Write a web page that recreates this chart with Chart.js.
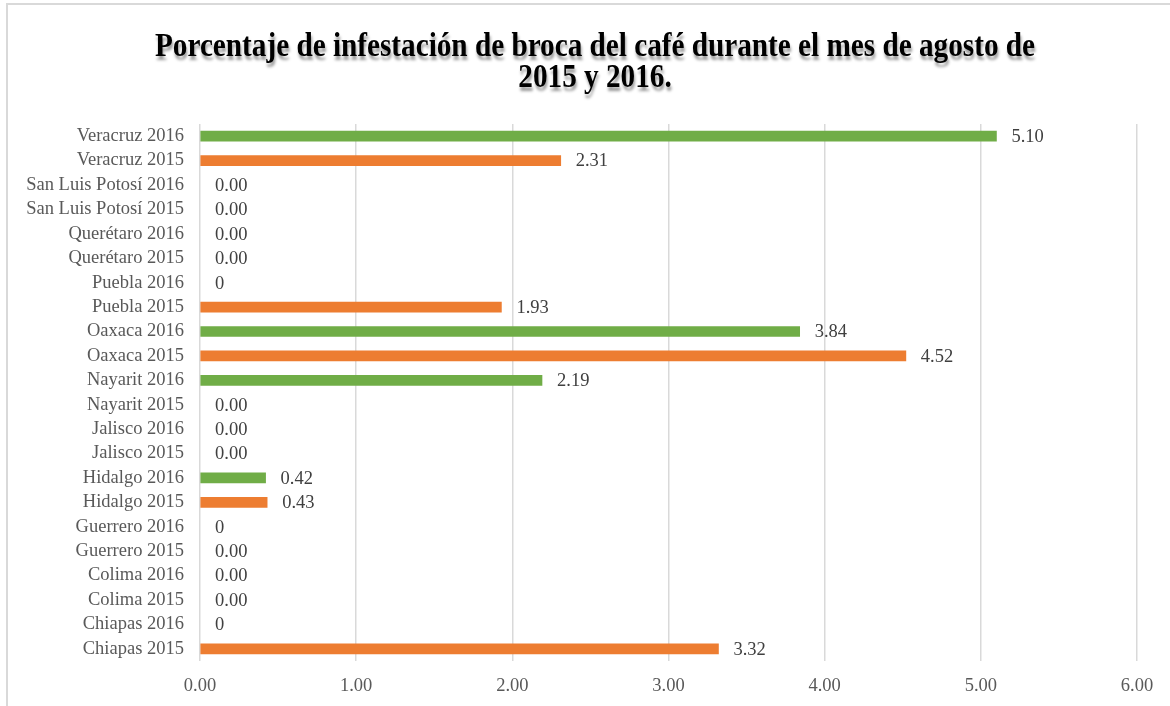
<!DOCTYPE html>
<html>
<head>
<meta charset="utf-8">
<script src="https://cdn.jsdelivr.net/npm/chart.js@4/dist/chart.umd.min.js"></script>
<style>
    html, body { margin: 0; padding: 0; background: #fff; }
    #marco { position: absolute; left: 6px; top: 3px; width: 1200px; height: 760px; border-top: 2px solid #d9d9d9; border-left: 2px solid #d9d9d9; }
    #wrap { position: absolute; left: 0; top: 0; width: 1170px; height: 706px; }
</style>
</head>
<body>
<div id="marco"></div>
<div id="wrap"><canvas id="brocaChart" width="1170" height="706"></canvas></div>
<script>
// categorias (de arriba hacia abajo)
const categorias = ['Veracruz 2016', 'Veracruz 2015', 'San Luis Potosí 2016', 'San Luis Potosí 2015',
    'Querétaro 2016', 'Querétaro 2015', 'Puebla 2016', 'Puebla 2015', 'Oaxaca 2016', 'Oaxaca 2015',
    'Nayarit 2016', 'Nayarit 2015', 'Jalisco 2016', 'Jalisco 2015', 'Hidalgo 2016', 'Hidalgo 2015',
    'Guerrero 2016', 'Guerrero 2015', 'Colima 2016', 'Colima 2015', 'Chiapas 2016', 'Chiapas 2015'];
// porcentaje de infestacion
const valores = [5.10, 2.31, 0, 0, 0, 0, 0, 1.93, 3.84, 4.52, 2.19, 0, 0, 0, 0.42, 0.43, 0, 0, 0, 0, 0, 3.32];
// etiquetas tal como aparecen
const etiquetas = ['5.10', '2.31', '0.00', '0.00', '0.00', '0.00', '0', '1.93', '3.84', '4.52', '2.19', '0.00',
    '0.00', '0.00', '0.42', '0.43', '0', '0.00', '0.00', '0.00', '0', '3.32'];
const ticksX = [0, 1, 2, 3, 4, 5, 6];

// naranja = 2015, verde = 2016 (sin color si el valor es 0)
const colores = categorias.map((c, i) => valores[i] === 0 ? 'rgba(0,0,0,0)' : (c.endsWith('2015') ? '#ED7D31' : '#70AD47'));

const tituloLineas = ['Porcentaje de infestación de broca del café durante el mes de agosto de', '2015 y 2016.'];
const fuente = '"Liberation Serif", "Times New Roman", serif';

// plugin para el titulo con sombra
const tituloPlugin = {
    id: 'tituloSombra',
    afterDraw(chart) {
        const ctx = chart.ctx;
        ctx.save();
        ctx.font = 'bold 34px ' + fuente;
        const w = ctx.measureText(tituloLineas[0]).width;
        const esc = 880 / w;
        ctx.translate(595, 0);
        ctx.scale(esc, 1);
        ctx.textAlign = 'center';
        ctx.textBaseline = 'alphabetic';
        ctx.fillStyle = '#000';
        ctx.shadowColor = 'rgba(0,0,0,0.4)';
        ctx.shadowOffsetX = 1;
        ctx.shadowOffsetY = 4;
        ctx.shadowBlur = 3;
        ctx.fillText(tituloLineas[0], 0, 56);
        ctx.fillText(tituloLineas[1], 0, 87);
        ctx.restore();
    }
};

// plugin para etiquetas de datos
const etiquetasPlugin = {
    id: 'etiquetasDatos',
    afterDatasetsDraw(chart) {
        const ctx = chart.ctx;
        const meta = chart.getDatasetMeta(0);
        ctx.save();
        ctx.font = '18.5px ' + fuente;
        ctx.fillStyle = '#404040';
        ctx.textAlign = 'left';
        ctx.textBaseline = 'middle';
        meta.data.forEach((bar, i) => {
            ctx.fillText(etiquetas[i], bar.x + 15, bar.y + 1);
        });
        ctx.restore();
    }
};

const ctx = document.getElementById('brocaChart').getContext('2d');
new Chart(ctx, {
    type: 'bar',
    data: {
        labels: categorias,
        datasets: [{
            label: 'Porcentaje',
            data: valores,
            backgroundColor: colores,
            barThickness: 10
        }]
    },
    options: {
        indexAxis: 'y',
        responsive: false,
        animation: false,
        layout: { padding: { top: 124, right: 33, left: 0, bottom: 0 } },
        plugins: {
            legend: { display: false },
            tooltip: { enabled: false }
        },
        scales: {
            x: {
                min: 0,
                max: 6,
                afterBuildTicks: (s) => { s.ticks = ticksX.map(v => ({ value: v })); },
                afterFit: (s) => { s.height = 45; },
                grid: { color: '#d9d9d9', lineWidth: 1.5, drawTicks: false },
                border: { display: false },
                ticks: {
                    padding: 14,
                    color: '#595959',
                    font: { family: fuente, size: 18.5 },
                    callback: (v) => Number(v).toFixed(2)
                }
            },
            y: {
                afterFit: (s) => { s.width = 200; },
                grid: { display: false, drawTicks: false },
                border: { display: false },
                ticks: {
                    autoSkip: false,
                    padding: 16,
                    color: '#595959',
                    font: { family: fuente, size: 18.5 }
                }
            }
        }
    },
    plugins: [tituloPlugin, etiquetasPlugin]
});
</script>
</body>
</html>
